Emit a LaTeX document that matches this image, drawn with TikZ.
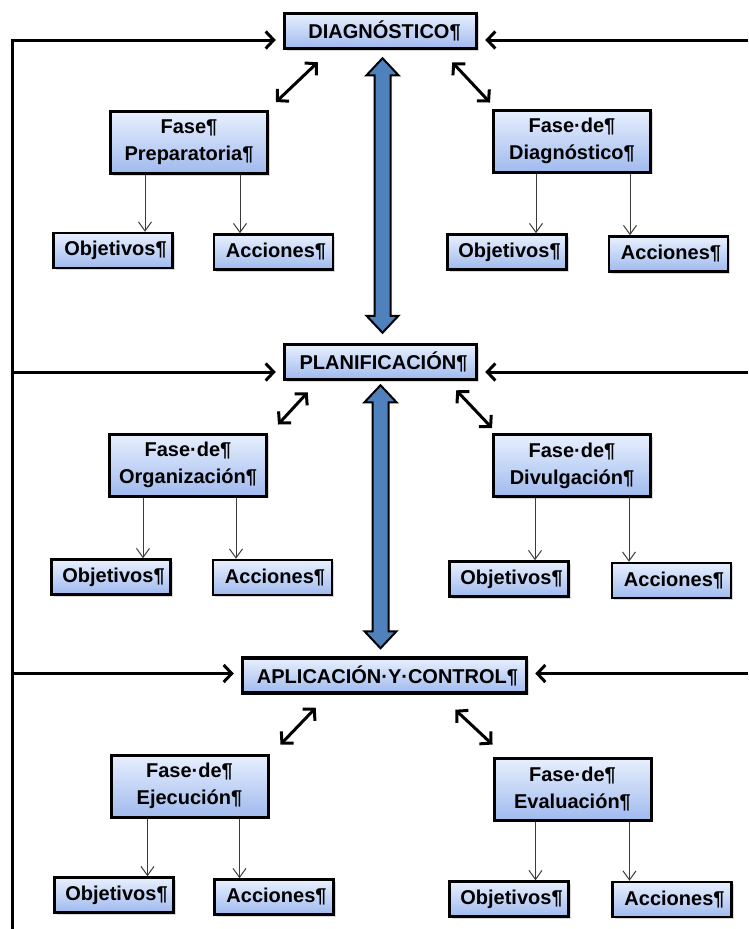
\documentclass[tikz,border=0pt]{standalone}
\usepackage{fontspec}
\setmainfont{Liberation Sans}
\usetikzlibrary{arrows.meta,shadows,calc}
\definecolor{boxtop}{RGB}{232,240,254}
\definecolor{boxbot}{RGB}{160,186,238}
\definecolor{bigblue}{RGB}{79,129,189}
\definecolor{thingray}{RGB}{60,60,60}
\begin{document}
\begin{tikzpicture}[x=1pt, y=-1pt,
	box/.style={draw=black, top color=boxtop, bottom color=boxbot, drop shadow={shadow xshift=2pt, shadow yshift=-2pt, opacity=0.3}, font=\bfseries\fontsize{20}{27}\selectfont, align=center, inner sep=2pt},
	stagebox/.style={box, line width=3.5pt, minimum height=35pt},
	phasebox/.style={box, line width=3pt, minimum width=157pt, minimum height=62pt},
	itembox/.style={box, line width=2.5pt, minimum width=119pt, minimum height=35pt, execute at begin node={\hspace*{5pt}}},
	link/.style={line width=3pt, {Straight Barb[length=8pt,width=17pt]}-{Straight Barb[length=8pt,width=17pt]}},
	feed/.style={line width=3pt, -{Straight Barb[length=8pt,width=17pt]}, shorten >=7pt},
	sub/.style={thingray, line width=1pt, -{Straight Barb[length=9pt,width=13pt]}},
	bigarrow/.style={draw=black, line width=2pt, fill=bigblue, line join=miter}]
				\useasboundingbox (0,0) rectangle (748,929);
				% stages
				\node[stagebox, minimum width=192pt] (diag) at (380.5,31) {\hspace*{8pt}DIAGNÓSTICO¶};
				\node[stagebox, minimum width=192pt] (plan) at (380.5,362) {\hspace*{6pt}PLANIFICACIÓN¶};
				\node[stagebox, minimum width=284pt] (apl) at (384.5,675.5) {\hspace*{6pt}APLICACIÓN·Y·CONTROL¶};
				% phases
				\node[phasebox] (fprep) at (189,142.5) {Fase¶\\Preparatoria¶};
				\node[phasebox] (fdiag) at (572,141) {Fase·de¶\\Diagnóstico¶};
				\node[phasebox] (forg) at (188,465) {Fase·de¶\\Organización¶};
				\node[phasebox] (fdiv) at (572,465.5) {Fase·de¶\\Divulgación¶};
				\node[phasebox] (feje) at (189.5,786) {Fase·de¶\\Ejecución¶};
				\node[phasebox] (feva) at (572.5,789) {Fase·de¶\\Evaluación¶};
				% items
				\node[itembox] (obja) at (113,250.5) {Objetivos¶};
				\node[itembox] (acca) at (273.5,252) {Acciones¶};
				\node[itembox] (objb) at (507,252) {Objetivos¶};
				\node[itembox] (accb) at (668.5,254) {Acciones¶};
				\node[itembox] (objc) at (111,577) {Objetivos¶};
				\node[itembox] (accc) at (272.5,577.5) {Acciones¶};
				\node[itembox] (objd) at (509,579) {Objetivos¶};
				\node[itembox] (accd) at (671.5,580.5) {Acciones¶};
				\node[itembox] (obje) at (114,895) {Objetivos¶};
				\node[itembox] (acce) at (274,897) {Acciones¶};
				\node[itembox] (objf) at (509,899) {Objetivos¶};
				\node[itembox] (accf) at (672,899.5) {Acciones¶};
				% frame
				\coordinate (ltop) at (12,40);
				\coordinate (lbot) at (12,929);
				\coordinate (rtop) at (748,40);
				
				\draw[line width=3pt] (lbot) -- (ltop);
				\draw[feed] ([xshift=-1.5pt]ltop) -- (ltop -| diag.west);
				\draw[feed] (ltop |- plan.west) ++(0,10) coordinate (lplan) -- (lplan -| plan.west);
				\draw[feed] (ltop |- apl.west) ++(0,-2) coordinate (lapl) -- (lapl -| apl.west);
				\draw[feed] (rtop) -- (rtop -| diag.east);
				\draw[feed] (rtop |- plan.east) ++(0,10) coordinate (rplan) -- (rplan -| plan.east);
				\draw[feed] (rtop |- apl.east) ++(0,-2) coordinate (rapl) -- (rapl -| apl.east);
				
				% big arrows
				\draw[bigarrow] ($(diag.south)+(2,8)$) -- ++(16,17) -- ++(-8,0) -- ($(plan.north)+(10,-27)$) -- ++(8,0) -- ($(plan.north)+(2,-10)$) -- ++(-16,-17) -- ++(8,0) -- ($(diag.south)+(-6,25)$) -- ++(-8,0) -- cycle;
				\draw[bigarrow] ($(plan.south)+(0,4)$) -- ++(16,17) -- ++(-8,0) -- ($(apl.north)+(4,-25)$) -- ++(8,0) -- ($(apl.north)+(-4,-8)$) -- ++(-16,-17) -- ++(8,0) -- ($(plan.south)+(-8,21)$) -- ++(-8,0) -- cycle;
				
				% stage to phase
				\draw[link] ($(diag.south west)+(35,12)$) -- ($(fprep.north east)+(7,-8)$);
				\draw[link] ($(diag.south east)+(-26,12)$) -- ($(fdiag.north west)+(-2,-6)$);
				\draw[link] ($(plan.south west)+(25,11)$) -- ($(forg.north east)+(10,-8)$);
				\draw[link] ($(plan.south east)+(-22,9)$) -- ($(fdiv.north west)+(0,-5)$);
				\draw[link] ($(apl.south west)+(75,13)$) -- ($(feje.north east)+(11,-9)$);
				\draw[link] ($(apl.south east)+(-73,15)$) -- ($(feva.north west)+(0,-12)$);
				
				% phase to items
				\draw[sub] ($(fprep.south west)+(36,0)$) -- ($(fprep.south west |- obja.north)+(36,0)$);
				\draw[sub] ($(fprep.south west)+(131,0)$) -- ($(fprep.south west |- acca.north)+(131,0)$);
				\draw[sub] ($(fdiag.south west)+(44,0)$) -- ($(fdiag.south west |- objb.north)+(44,0)$);
				\draw[sub] ($(fdiag.south west)+(138,0)$) -- ($(fdiag.south west |- accb.north)+(138,0)$);
				\draw[sub] ($(forg.south west)+(35,0)$) -- ($(forg.south west |- objc.north)+(35,0)$);
				\draw[sub] ($(forg.south west)+(128,0)$) -- ($(forg.south west |- accc.north)+(128,0)$);
				\draw[sub] ($(fdiv.south west)+(43,0)$) -- ($(fdiv.south west |- objd.north)+(43,0)$);
				\draw[sub] ($(fdiv.south west)+(137,0)$) -- ($(fdiv.south west |- accd.north)+(137,0)$);
				\draw[sub] ($(feje.south west)+(38,0)$) -- ($(feje.south west |- obje.north)+(38,0)$);
				\draw[sub] ($(feje.south west)+(130,0)$) -- ($(feje.south west |- acce.north)+(130,0)$);
				\draw[sub] ($(feva.south west)+(43,0)$) -- ($(feva.south west |- objf.north)+(43,0)$);
				\draw[sub] ($(feva.south west)+(137,0)$) -- ($(feva.south west |- accf.north)+(137,0)$);
			\end{tikzpicture}
\end{document}
